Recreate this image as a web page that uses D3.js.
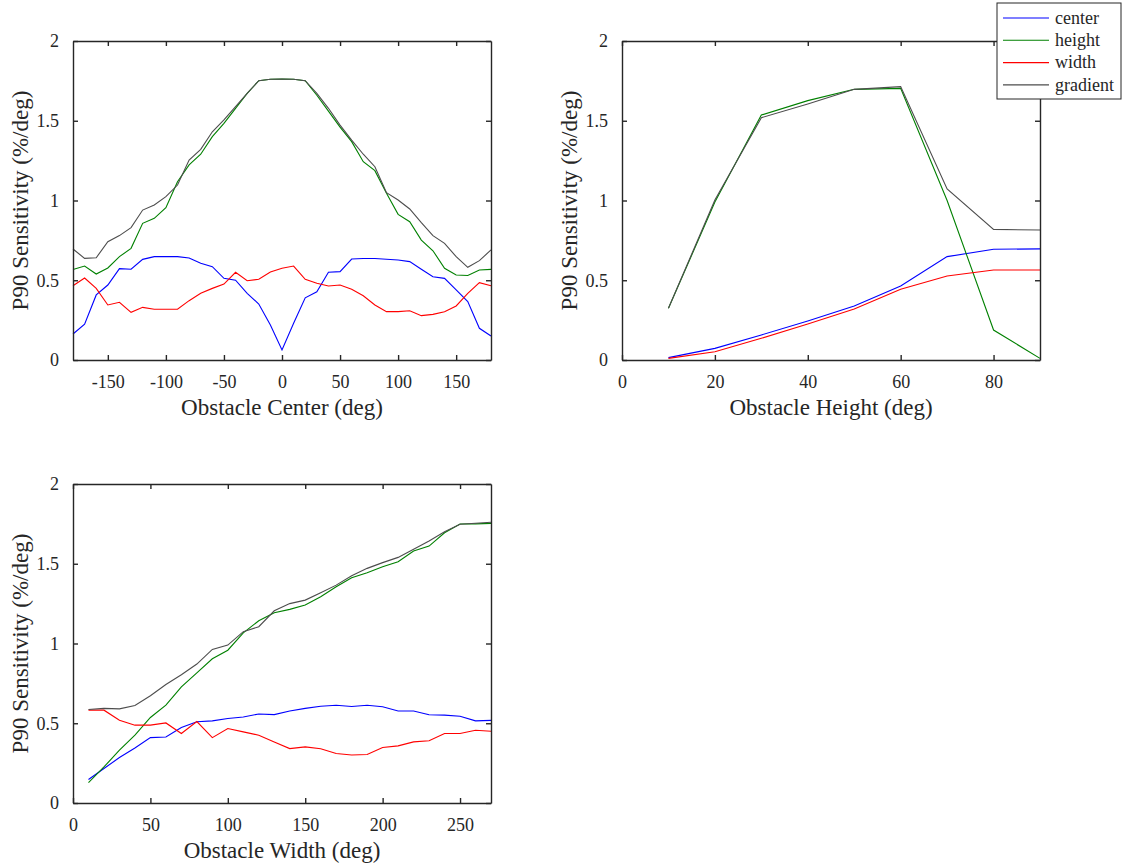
<!DOCTYPE html>
<html>
<head>
<meta charset="utf-8">
<script src="https://cdn.jsdelivr.net/npm/d3@7"></script>
<style>
    body { margin: 0; background: #fff; }
    svg { display: block; font-family: "Liberation Serif", "Times New Roman", serif; }
</style>
</head>
<body>
<script>
// x categories of the three sweeps
const centerX = [-180,-170,-160,-150,-140,-130,-120,-110,-100,-90,-80,-70,-60,-50,-40,-30,-20,-10,0,10,20,30,40,50,60,70,80,90,100,110,120,130,140,150,160,170,180];
const heightX = [10,20,30,40,50,60,70,80,90];
const widthX = [10,20,30,40,50,60,70,80,90,100,110,120,130,140,150,160,170,180,190,200,210,220,230,240,250,260,270];

// obstacle center sweep
const centerCenter = [0.163,0.224,0.408,0.470,0.573,0.569,0.631,0.648,0.648,0.648,0.640,0.606,0.585,0.512,0.500,0.418,0.351,0.219,0.063,0.230,0.390,0.428,0.550,0.554,0.633,0.636,0.636,0.632,0.627,0.617,0.569,0.522,0.512,0.439,0.366,0.199,0.150];
const centerHeight = [0.568,0.589,0.539,0.577,0.648,0.700,0.857,0.888,0.955,1.118,1.223,1.290,1.400,1.484,1.578,1.672,1.751,1.760,1.762,1.760,1.751,1.660,1.560,1.460,1.369,1.243,1.187,1.045,0.913,0.867,0.752,0.685,0.575,0.533,0.530,0.564,0.568];
const centerWidth = [0.466,0.514,0.449,0.345,0.362,0.299,0.330,0.318,0.318,0.318,0.372,0.418,0.449,0.476,0.550,0.497,0.506,0.552,0.575,0.589,0.506,0.481,0.464,0.470,0.443,0.403,0.345,0.303,0.303,0.309,0.278,0.286,0.303,0.339,0.418,0.485,0.466];
const centerGradient = [0.696,0.637,0.641,0.742,0.780,0.830,0.940,0.972,1.024,1.097,1.254,1.321,1.431,1.505,1.588,1.672,1.751,1.760,1.762,1.760,1.751,1.672,1.578,1.473,1.379,1.290,1.212,1.049,1.003,0.947,0.861,0.780,0.731,0.648,0.581,0.623,0.690];

// obstacle height sweep
const heightCenter = [0.015,0.073,0.157,0.245,0.339,0.464,0.648,0.694,0.697];
const heightHeight = [0.324,0.990,1.536,1.626,1.697,1.703,1.000,0.188,0.010];
const heightWidth = [0.010,0.052,0.136,0.226,0.320,0.443,0.527,0.564,0.564];
const heightGradient = [0.324,1.003,1.519,1.605,1.697,1.714,1.072,0.819,0.815];

// obstacle width sweep
const widthCenter = [0.147,0.216,0.285,0.345,0.410,0.414,0.473,0.509,0.515,0.530,0.539,0.558,0.554,0.577,0.593,0.607,0.613,0.605,0.613,0.603,0.577,0.577,0.553,0.551,0.544,0.515,0.518];
const widthHeight = [0.128,0.226,0.331,0.425,0.536,0.613,0.728,0.816,0.904,0.958,1.067,1.143,1.193,1.214,1.241,1.293,1.356,1.412,1.444,1.481,1.513,1.580,1.611,1.694,1.749,1.750,1.753];
const widthWidth = [0.582,0.582,0.519,0.488,0.488,0.502,0.436,0.511,0.410,0.467,0.446,0.425,0.383,0.341,0.352,0.340,0.310,0.301,0.304,0.348,0.358,0.383,0.390,0.436,0.436,0.456,0.450];
const widthGradient = [0.586,0.593,0.590,0.611,0.672,0.743,0.804,0.871,0.963,0.990,1.074,1.105,1.205,1.250,1.272,1.318,1.366,1.425,1.471,1.507,1.540,1.591,1.643,1.701,1.748,1.754,1.760];

const seriesNames = ["center", "height", "width", "gradient"];
const yTicks = [0, 0.5, 1, 1.5, 2];

const colors = {center: "#0000ff", height: "#008000", width: "#ff0000", gradient: "#4d4d4d"};
const ink = "#262626";

const svg = d3.select("body").append("svg").attr("width", 1122).attr("height", 868);

// one MATLAB style boxed axes
function drawPanel(p) {
    const w = 418, h = 319;
    const g = svg.append("g").attr("transform", "translate(" + p.left + "," + p.top + ")");
    const x = d3.scaleLinear().domain(p.xDomain).range([0, w]);
    const y = d3.scaleLinear().domain([0, 2]).range([h, 0]);

    const line = d3.line().x(d => x(d[0])).y(d => y(d[1]));
    p.series.forEach((vals, i) => {
        g.append("path")
        .datum(p.xs.map((v, j) => [v, vals[j]]))
        .attr("fill", "none")
        .attr("stroke", colors[seriesNames[i]])
        .attr("stroke-width", 1.1)
        .attr("d", line);
    });

    const xAxis = d3.axisBottom(x).tickValues(p.xTicks).tickSizeInner(-5).tickSizeOuter(0).tickPadding(15).tickFormat(d => d);
    const yAxis = d3.axisLeft(y).tickValues(yTicks).tickSizeInner(-5).tickSizeOuter(0).tickPadding(14).tickFormat(d => d);

    g.append("g").attr("transform", "translate(0," + h + ")").call(xAxis);
    g.append("g").call(yAxis);
    g.append("g").call(d3.axisTop(x).tickValues(p.xTicks).tickSizeInner(-5).tickSizeOuter(0).tickFormat(""));
    g.append("g").attr("transform", "translate(" + w + ",0)").call(d3.axisRight(y).tickValues(yTicks).tickSizeInner(-5).tickSizeOuter(0).tickFormat(""));

    g.selectAll(".domain").attr("stroke", ink).attr("stroke-width", 1.4);
    g.selectAll(".tick line").attr("stroke", ink).attr("stroke-width", 1.4);
    g.selectAll(".tick text").attr("fill", ink).style("font-size", "18px").style("font-family", "Liberation Serif");

    g.append("text")
    .attr("x", w / 2).attr("y", h + 55)
    .attr("text-anchor", "middle")
    .attr("fill", ink)
    .style("font-size", "23px")
    .text(p.xLabel);

    g.append("text")
    .attr("transform", "translate(-45," + (h / 2) + ") rotate(-90)")
    .attr("text-anchor", "middle")
    .attr("fill", ink)
    .style("font-size", "23px")
    .text("P90 Sensitivity (%/deg)");
}

drawPanel({left: 73, top: 41, xDomain: [-180, 180], xTicks: [-150,-100,-50,0,50,100,150], xs: centerX,
    series: [centerCenter, centerHeight, centerWidth, centerGradient], xLabel: "Obstacle Center (deg)"});
drawPanel({left: 622, top: 41, xDomain: [0, 90], xTicks: [0,20,40,60,80], xs: heightX,
    series: [heightCenter, heightHeight, heightWidth, heightGradient], xLabel: "Obstacle Height (deg)"});
drawPanel({left: 73, top: 484, xDomain: [0, 270], xTicks: [0,50,100,150,200,250], xs: widthX,
    series: [widthCenter, widthHeight, widthWidth, widthGradient], xLabel: "Obstacle Width (deg)"});

// legend
const legend = svg.append("g").attr("transform", "translate(997,3)");
legend.append("rect").attr("width", 124).attr("height", 96)
    .attr("fill", "#fff").attr("stroke", ink).attr("stroke-width", 1);
seriesNames.forEach((name, i) => {
    const ly = 15 + i * 22.3;
    legend.append("line").attr("x1", 6).attr("x2", 52).attr("y1", ly).attr("y2", ly)
        .attr("stroke", colors[name]).attr("stroke-width", 1.1);
    legend.append("text").attr("x", 58).attr("y", ly).attr("dy", "0.32em")
        .attr("fill", ink).style("font-size", "18px").text(name);
});
</script>
</body>
</html>
